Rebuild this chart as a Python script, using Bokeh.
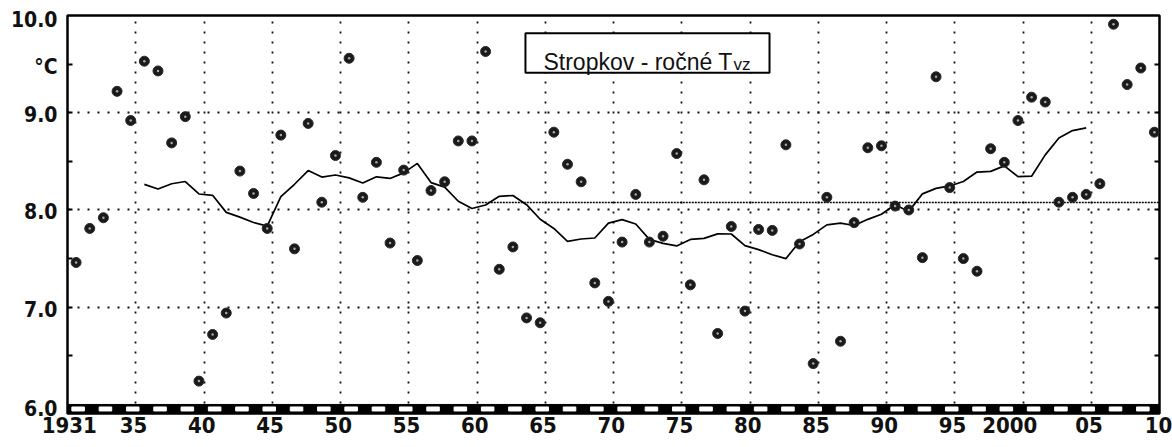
import pandas as pd
from bokeh.plotting import figure
from bokeh.models import (Range1d, FixedTicker, LinearAxis, Label, BoxAnnotation,
                          ColumnDataSource, CustomJSTickFormatter)
from bokeh.embed import file_html
from bokeh.resources import INLINE

# ---------------- data ----------------
YEARS = list(range(1931, 2011))
TEMP = [7.46, 7.81, 7.92, 9.22, 8.92, 9.53, 9.43, 8.69, 8.96, 6.24,
        6.72, 6.94, 8.40, 8.17, 7.81, 8.77, 7.60, 8.89, 8.08, 8.56,
        9.56, 8.13, 8.49, 7.66, 8.41, 7.48, 8.20, 8.29, 8.71, 8.71,
        9.63, 7.39, 7.62, 6.89, 6.84, 8.80, 8.47, 8.29, 7.25, 7.06,
        7.67, 8.16, 7.67, 7.73, 8.58, 7.23, 8.31, 6.73, 7.83, 6.96,
        7.80, 7.79, 8.67, 7.65, 6.42, 8.13, 6.65, 7.87, 8.64, 8.66,
        8.04, 8.00, 7.51, 9.37, 8.23, 7.50, 7.37, 8.63, 8.49, 8.92,
        9.16, 9.11, 8.08, 8.13, 8.16, 8.27, 9.91, 9.29, 9.46, 8.80]
MA_WINDOW = 11
REF_START, REF_END = 1961, 2010

XLABEL_YEARS = [1931, 1935, 1940, 1945, 1950, 1955, 1960, 1965, 1970,
                1975, 1980, 1985, 1990, 1995, 2000, 2005, 2010]
XLABELS = ["1931", "35", "40", "45", "50", "55", "60", "65", "70",
           "75", "80", "85", "90", "95", "2000", "05", "10"]
YLABEL_VALUES = [6.0, 7.0, 8.0, 9.0, 9.5, 10.0]
YLABELS = ["6.0", "7.0", "8.0", "9.0", "°C", "10.0"]
TITLE = "Stropkov - ročné T"
TITLE_SUB = "vz"

# ---------------- derived ----------------
s = pd.Series(TEMP, index=YEARS)
ma = s.rolling(MA_WINDOW, center=True).mean().dropna()
ref_mean = s.loc[REF_START:REF_END].mean()

X0, X1 = 1930.37, 2010.37
Y0, Y1 = 5.907, 10.0
FONT_AX = "DejaVu Sans Condensed"

p = figure(width=1172, height=447, output_backend="svg", toolbar_location=None,
           x_range=Range1d(X0, X1), y_range=Range1d(Y0, Y1),
           min_border_left=67, min_border_right=13, min_border_top=15,
           min_border_bottom=34, background_fill_color="white",
           border_fill_color="white")
p.outline_line_color = "black"
p.outline_line_width = 2.5

# grids
p.xgrid.ticker = FixedTicker(ticks=[y + 0.37 for y in range(1935, 2010, 5)])
p.ygrid.ticker = FixedTicker(ticks=[7.0, 8.0, 9.0])
for g in (p.xgrid[0], p.ygrid[0]):
    g.grid_line_color = "#111111"
    g.grid_line_dash = "2 8"
    g.grid_line_width = 1.8

# x axis labels
nudge = {1931: -0.7, 2000: -0.8, 2010: 0.1}
xpos = [y + 0.2 + nudge.get(y, 0.0) for y in XLABEL_YEARS]
xa = p.xaxis[0]
xa.ticker = FixedTicker(ticks=xpos, minor_ticks=[])
xa.formatter = CustomJSTickFormatter(args=dict(labels=XLABELS), code="return labels[index];")
xa.axis_line_color = None
xa.major_tick_line_color = None
xa.minor_tick_line_color = None
xa.major_tick_in = 0
xa.major_tick_out = 0
xa.minor_tick_in = 0
xa.minor_tick_out = 0
xa.major_label_standoff = 3
xa.major_label_text_font = FONT_AX
xa.major_label_text_font_style = "bold"
xa.major_label_text_font_size = "22px"
xa.major_label_text_color = "#111111"

# y axis: labels sit a little below their values, ticks drawn as minor ticks
ynudge = {6.0: -0.05, 10.0: -0.045}
ypos = [v + ynudge.get(v, -0.025) for v in YLABEL_VALUES]
ya = p.yaxis[0]
ya.ticker = FixedTicker(ticks=ypos, minor_ticks=[6.5, 7.0, 7.5, 8.0, 8.5, 9.0, 9.5])
ya.formatter = CustomJSTickFormatter(args=dict(labels=YLABELS), code="return labels[index];")
ya.axis_line_color = None
ya.major_tick_in = 0
ya.major_tick_out = 0
ya.major_tick_line_color = None
ya.minor_tick_in = 5
ya.minor_tick_out = 0
ya.minor_tick_line_width = 2
ya.minor_tick_line_color = "black"
ya.major_label_standoff = 10
ya.major_label_text_font = FONT_AX
ya.major_label_text_font_style = "bold"
ya.major_label_text_font_size = "21px"
ya.major_label_text_color = "#111111"

ra = LinearAxis(ticker=FixedTicker(ticks=[7.0, 8.0, 9.0], minor_ticks=[6.5, 7.5, 8.5, 9.5]),
                formatter=CustomJSTickFormatter(code="return '';"),
                axis_line_color=None, major_tick_in=5, major_tick_out=0,
                minor_tick_in=5, minor_tick_out=0, major_tick_line_width=2,
                minor_tick_line_width=2, major_label_standoff=0)
p.add_layout(ra, "right")

# bottom bar (black with white dashes)
p.quad(left=[X0], right=[X1], bottom=[Y0], top=[6.0], color="black")
dash_x = [y + 0.15 for y in range(1931, 2011, 2)]
p.rect(x=dash_x, y=[(Y0 + 6.0) / 2] * len(dash_x), width=0.92, height=4,
       height_units="screen", color="white")

# reference mean (dotted)
p.segment(x0=[REF_START - 0.5], y0=[ref_mean], x1=[X1], y1=[ref_mean],
          line_color="black", line_width=1.6, line_dash="2 1")

# moving average
p.line(x=list(ma.index), y=list(ma.values), line_color="black", line_width=1.7)

# points
src = ColumnDataSource(dict(year=YEARS, temp=TEMP))
p.scatter(x="year", y="temp", source=src, size=10, fill_color="#1a1a1a",
          line_color="#2a2a2a", line_width=1)
p.scatter(x="year", y="temp", source=src, size=2.5, fill_color="#a8a8a8", line_color=None)

# title box
p.add_layout(BoxAnnotation(left=1963.92, right=1981.8, bottom=9.41, top=9.818,
                           fill_color="white", fill_alpha=1.0,
                           line_color="black", line_width=2, line_alpha=1.0))
p.add_layout(Label(x=1965.24, y=9.517, text=TITLE, text_font="Liberation Sans",
                   text_font_size="23px", text_baseline="alphabetic",
                   text_align="left", text_color="#111111"))
p.add_layout(Label(x=1979.16, y=9.50, text=TITLE_SUB, text_font="Liberation Sans",
                   text_font_size="17px", text_baseline="alphabetic",
                   text_align="left", text_color="#111111"))

open("out.html", "w").write(file_html(p, INLINE))
